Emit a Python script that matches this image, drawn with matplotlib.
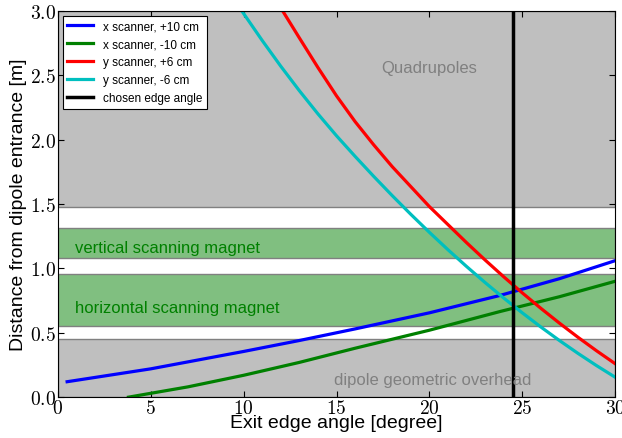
import matplotlib
matplotlib.use("Agg")
import matplotlib.pyplot as plt
from matplotlib.ticker import FuncFormatter, MultipleLocator

plt.rcParams['font.family'] = ['Liberation Sans', 'DejaVu Sans']
plt.rcParams['mathtext.fontset'] = 'cm'

# curves (exit edge angle [deg], distance [m])
x_blue = [0.5, 5, 10, 13, 16, 20, 23.8, 27, 30]
y_blue = [0.12, 0.22, 0.355, 0.44, 0.53, 0.655, 0.79, 0.92, 1.06]
x_green = [3.8, 7, 10, 13, 16, 20, 23.8, 27, 30]
y_green = [0.0, 0.08, 0.17, 0.27, 0.38, 0.52, 0.665, 0.78, 0.90]
x_red = [12.1, 13, 14, 15, 16, 17, 18, 19, 20, 21, 22, 23, 24, 25, 26, 27, 28, 29, 30]
y_red = [3.0, 2.79, 2.56, 2.34, 2.14, 1.96, 1.79, 1.635, 1.48, 1.34, 1.20, 1.065,
         0.935, 0.81, 0.69, 0.575, 0.465, 0.36, 0.26]
x_cyan = [9.9, 11, 12, 13, 14, 15, 16, 17, 18, 19, 20, 21, 22, 23, 24, 25, 26, 27, 28, 29, 30]
y_cyan = [3.0, 2.77, 2.57, 2.38, 2.20, 2.03, 1.87, 1.715, 1.565, 1.42, 1.28, 1.145,
          1.015, 0.89, 0.77, 0.655, 0.545, 0.44, 0.34, 0.245, 0.155]
chosen_angle = 24.5

# element regions along the beam [m]
gray_bands = [(0.0, 0.451), (1.476, 3.0)]
green_bands = [(0.552, 0.956), (1.08, 1.313)]

fig = plt.figure(figsize=(6.22, 4.39), dpi=100)
ax = fig.add_axes([0.093, 0.093, 0.896, 0.880])

for lo, hi in gray_bands:
    ax.axhspan(lo, hi, facecolor='#bfbfbf', edgecolor='0.5', lw=1, zorder=0)
for lo, hi in green_bands:
    ax.axhspan(lo, hi, facecolor='#80bf80', edgecolor='0.5', lw=1, zorder=0)

ax.text(20.0, 2.56, "Quadrupoles", color='0.5', fontsize=12, ha='center', va='center')
ax.text(0.95, 1.16, "vertical scanning magnet", color='green', fontsize=12, va='center')
ax.text(0.95, 0.70, "horizontal scanning magnet", color='green', fontsize=12, va='center')
ax.text(20.2, 0.14, "dipole geometric overhead", color='0.5', fontsize=12, ha='center', va='center')

ax.plot(x_blue, y_blue, color='blue', lw=2.3, label='x scanner, +10 cm')
ax.plot(x_green, y_green, color='green', lw=2.3, label='x scanner, -10 cm')
ax.plot(x_red, y_red, color='red', lw=2.3, label='y scanner, +6 cm')
ax.plot(x_cyan, y_cyan, color='c', lw=2.3, label='y scanner, -6 cm')
ax.axvline(chosen_angle, color='black', lw=2.5, label='chosen edge angle')

ax.set_xlim(0, 30)
ax.set_ylim(0, 3.0)
ax.xaxis.set_major_locator(MultipleLocator(5))
ax.yaxis.set_major_locator(MultipleLocator(0.5))
ax.xaxis.set_major_formatter(FuncFormatter(lambda v, p: r'$%d$' % v))
ax.yaxis.set_major_formatter(FuncFormatter(lambda v, p: r'$%.1f$' % v))
ax.tick_params(direction='in', top=True, right=True, labelsize=14, length=4, pad=1.5)
ax.set_xlabel("Exit edge angle [degree]", fontsize=14, labelpad=-2)
ax.set_ylabel("Distance from dipole entrance [m]", fontsize=14, labelpad=2)

leg = ax.legend(loc='upper left', fontsize=8.5, fancybox=False, framealpha=1,
                edgecolor='black', handlelength=2.2, borderaxespad=0.4)
leg.get_frame().set_linewidth(0.8)

fig.savefig("out.png", dpi=100)
